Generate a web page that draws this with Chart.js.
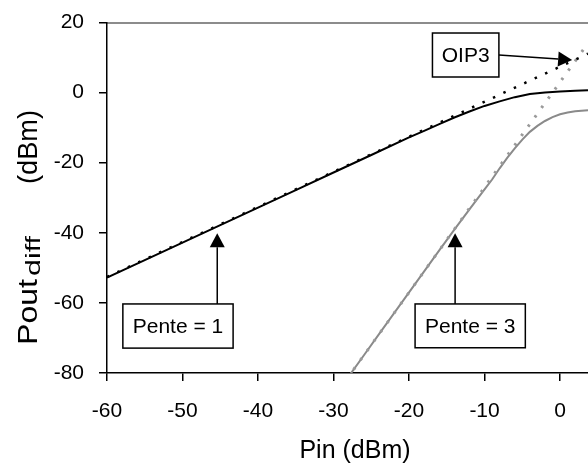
<!DOCTYPE html>
<html><head><meta charset="utf-8">
<script src="https://cdn.jsdelivr.net/npm/chart.js@4/dist/chart.umd.min.js"></script>
<style>html,body{margin:0;padding:0;background:#fff;overflow:hidden}</style>
</head><body>
<canvas id="c" width="588" height="465"></canvas>
<script>
// ---- data ----
const pinFund  = [-60, -55, -50, -45, -40, -35, -30, -25, -20, -18, -16, -14, -12, -10, -8, -6, -4, -2, 0, 2, 3.7];
const poutFund = [-52.8, -47.8, -42.8, -37.8, -32.8, -27.8, -22.8, -17.8, -12.8, -10.9, -9.0, -7.1, -5.4, -3.8, -2.5, -1.3, -0.4, 0.0, 0.3, 0.5, 0.7];
const pinFundLin  = [-60, 3.7];
const poutFundLin = [-52.6, 11.1];
const pinIM3  = [-30, -28, -26, -24, -22, -20, -18, -16, -14, -12, -10, -9, -8, -7, -6, -5, -4, -3, -2, -1, 0, 1, 2, 3.7];
const poutIM3 = [-87.0, -81.0, -75.0, -69.0, -63.0, -57.0, -51.0, -45.0, -39.1, -33.3, -27.6, -24.8, -21.6, -18.6, -15.9, -13.4, -11.2, -9.5, -8.1, -7.0, -6.2, -5.7, -5.3, -5.0];
const pinIM3Lin  = [-30, 3.7];
const poutIM3Lin = [-87.0, 14.1];
const xTicks = [-60, -50, -40, -30, -20, -10, 0];
const yTicks = [-80, -60, -40, -20, 0, 20];
const xTitle = 'Pin (dBm)';
const yTitleMain = 'Pout', yTitleSub = 'diff', yTitleUnit = '(dBm)';
const notes = [
  {text: 'OIP3',      box: [-16.9, 17.0, -8.1, 4.45], from: [-8.1, 10.7], to: [1.6, 9.3]},
  {text: 'Pente = 1', box: [-57.9, -60.3, -43.3, -72.9], from: [-45.4, -60.3], to: [-45.4, -40.1]},
  {text: 'Pente = 3', box: [-19.2, -60.3, -4.6, -72.8], from: [-13.9, -60.3], to: [-13.9, -40.1]}
];
// --------------------------------------
const FAM = "'Liberation Sans', Arial, sans-serif";
const pts = (xs, ys) => xs.map((x, i) => ({x, y: ys[i]}));

function fitText(ctx, text, font, start, len, base) {
  ctx.font = font;
  const w = ctx.measureText(text).width, f = len / w;
  ctx.save(); ctx.translate(start, base); ctx.scale(f, 1);
  ctx.fillText(text, 0, 0); ctx.restore();
}

const annot = {
  id: 'annot',
  afterDatasetsDraw(chart) {
    const ctx = chart.ctx, xs = chart.scales.x, ys = chart.scales.y;
    ctx.save();
    for (const n of notes) {
      const x1 = xs.getPixelForValue(n.box[0]), y1 = ys.getPixelForValue(n.box[1]);
      const x2 = xs.getPixelForValue(n.box[2]), y2 = ys.getPixelForValue(n.box[3]);
      const fx = xs.getPixelForValue(n.from[0]), fy = ys.getPixelForValue(n.from[1]);
      const tx = xs.getPixelForValue(n.to[0]), ty = ys.getPixelForValue(n.to[1]);
      const ang = Math.atan2(ty - fy, tx - fx), L = 14, W = 7.5;
      const bx = tx - L * Math.cos(ang), by = ty - L * Math.sin(ang);
      ctx.strokeStyle = '#000'; ctx.lineWidth = 1.5;
      ctx.beginPath(); ctx.moveTo(fx, fy); ctx.lineTo(bx, by); ctx.stroke();
      ctx.fillStyle = '#000';
      ctx.beginPath();
      ctx.moveTo(tx, ty);
      ctx.lineTo(bx + W * Math.sin(ang), by - W * Math.cos(ang));
      ctx.lineTo(bx - W * Math.sin(ang), by + W * Math.cos(ang));
      ctx.closePath(); ctx.fill();
      ctx.fillStyle = '#fff';
      ctx.fillRect(x1, y1, x2 - x1, y2 - y1);
      ctx.lineWidth = 1.5; ctx.strokeStyle = '#000';
      ctx.strokeRect(x1, y1, x2 - x1, y2 - y1);
      ctx.fillStyle = '#000';
      ctx.font = '21px ' + FAM;
      ctx.textAlign = 'center'; ctx.textBaseline = 'middle';
      ctx.fillText(n.text, (x1 + x2) / 2, (y1 + y2) / 2 + 1);
    }
    ctx.restore();
  },
  afterDraw(chart) {
    const ctx = chart.ctx;
    ctx.save();
    ctx.fillStyle = '#000';
    ctx.font = '25px ' + FAM;
    ctx.textAlign = 'center'; ctx.textBaseline = 'alphabetic';
    ctx.fillText(xTitle, 355, 458);
    // y title (rotated): bottom of text at y=345, top at y=110
    ctx.translate(37, 345);
    ctx.rotate(-Math.PI / 2);
    ctx.textAlign = 'left';
    fitText(ctx, yTitleMain, '27px ' + FAM, 0, 66, 0);
    fitText(ctx, yTitleSub, '20px ' + FAM, 69, 40, 3);
    fitText(ctx, yTitleUnit, '27px ' + FAM, 161, 74, 0);
    ctx.restore();
  }
};

new Chart(document.getElementById('c'), {
  type: 'line',
  data: {
    datasets: [
      {data: pts(pinFundLin, poutFundLin), borderColor: '#000', borderWidth: 2.5, borderDash: [2.5, 9], pointRadius: 0},
      {data: pts(pinIM3Lin, poutIM3Lin), borderColor: '#9a9a9a', borderWidth: 3, borderDash: [2.5, 9], pointRadius: 0},
      {data: pts(pinFund, poutFund), borderColor: '#000', borderWidth: 2, pointRadius: 0},
      {data: pts(pinIM3, poutIM3), borderColor: '#8a8a8a', borderWidth: 2, pointRadius: 0}
    ]
  },
  options: {
    responsive: false, animation: false, devicePixelRatio: 1,
    layout: {padding: {top: 22.5, left: 0, right: 0, bottom: 0}},
    plugins: {legend: {display: false}, tooltip: {enabled: false}},
    scales: {
      x: {
        type: 'linear', position: 'bottom', min: -60, max: 3.7,
        afterBuildTicks: s => { s.ticks = xTicks.map(v => ({value: v})); },
        afterFit: s => { s.height = 92; },
        grid: {display: true, drawOnChartArea: false, drawTicks: true, tickLength: 8, color: '#000', lineWidth: 1.5},
        border: {display: true, color: '#000', width: 1.5},
        ticks: {color: '#000', font: {size: 21, family: FAM}, padding: 18, maxRotation: 0}
      },
      xTop: {
        type: 'linear', position: 'top', min: -60, max: 3.7,
        afterFit: s => { s.height = 0; s.paddingLeft = 0; s.paddingRight = 0; },
        grid: {display: false},
        border: {display: true, color: '#8c8c8c', width: 2},
        ticks: {display: false}
      },
      y: {
        type: 'linear', min: -80, max: 20,
        afterBuildTicks: s => { s.ticks = yTicks.map(v => ({value: v})); },
        afterFit: s => { s.width = 107; s.paddingTop = 0; s.paddingBottom = 0; },
        grid: {display: true, drawOnChartArea: false, drawTicks: true, tickLength: 8, color: '#000', lineWidth: 1.5},
        border: {display: true, color: '#000', width: 1.5},
        ticks: {color: '#000', font: {size: 21, family: FAM}, padding: 15}
      }
    }
  },
  plugins: [annot]
});
</script>
</body></html>
